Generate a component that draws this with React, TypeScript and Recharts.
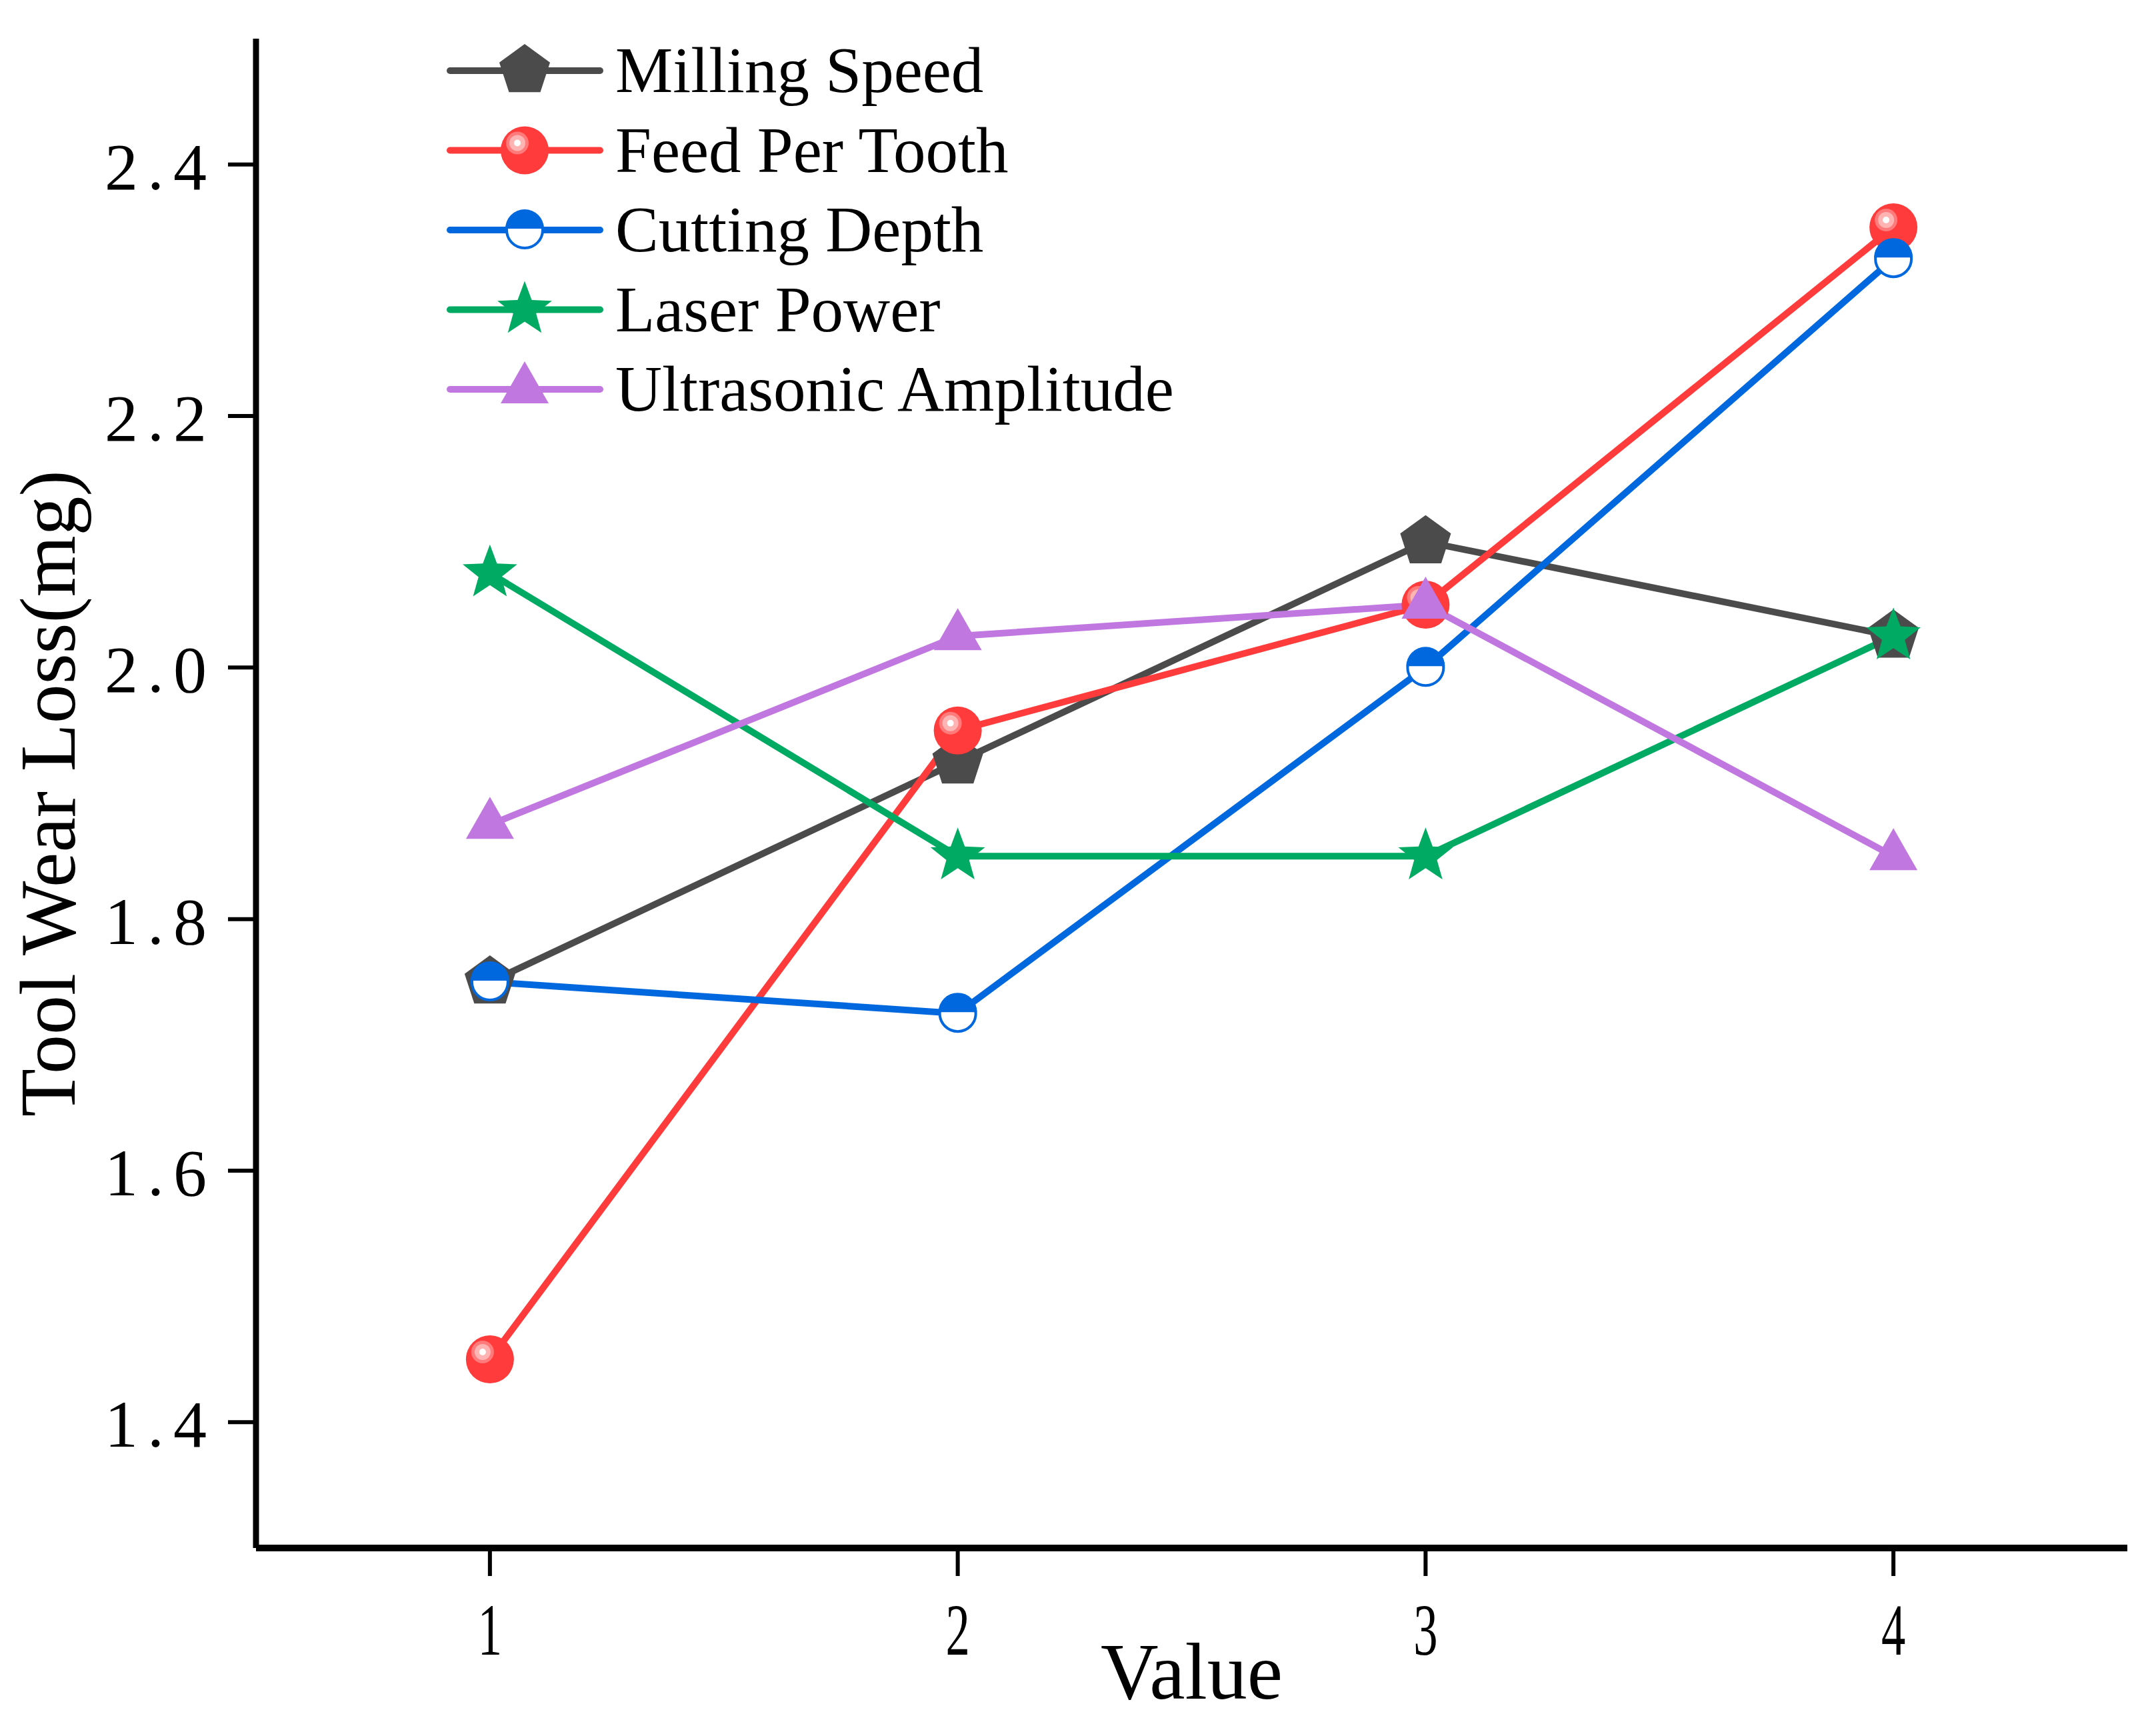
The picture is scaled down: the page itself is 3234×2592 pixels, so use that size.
import { LineChart, Line, XAxis, YAxis, Legend, Label } from 'recharts'

// x positions (factor levels) and the mean wear loss for each factor
const levels = [1, 2, 3, 4]
const millingSpeed = [1.75, 1.925, 2.1, 2.025]
const feedPerTooth = [1.45, 1.95, 2.05, 2.35]
const cuttingDepth = [1.75, 1.725, 2.0, 2.325]
const laserPower = [2.075, 1.85, 1.85, 2.025]
const ultrasonicAmplitude = [1.875, 2.025, 2.05, 1.85]

const xTicks = [1, 2, 3, 4]
const yTicks = [1.4, 1.6, 1.8, 2.0, 2.2, 2.4]

const FONT = "'Liberation Serif', 'Times New Roman', serif"

type Shape = 'pentagon' | 'ball' | 'half' | 'star' | 'triangle'

const SERIES: { key: string; name: string; color: string; shape: Shape }[] = [
  { key: 'milling', name: 'Milling Speed', color: '#4b4b4b', shape: 'pentagon' },
  { key: 'feed', name: 'Feed Per Tooth', color: '#ff3b3b', shape: 'ball' },
  { key: 'depth', name: 'Cutting Depth', color: '#0068de', shape: 'half' },
  { key: 'laser', name: 'Laser Power', color: '#00aa62', shape: 'star' },
  { key: 'ultra', name: 'Ultrasonic Amplitude', color: '#c078e0', shape: 'triangle' },
]

const data = levels.map((v, i) => ({
  value: v,
  milling: millingSpeed[i],
  feed: feedPerTooth[i],
  depth: cuttingDepth[i],
  laser: laserPower[i],
  ultra: ultrasonicAmplitude[i],
}))

function polar(cx: number, cy: number, r: number, a: number) {
  return `${cx + r * Math.cos(a)},${cy + r * Math.sin(a)}`
}

function Marker({ shape, cx, cy, color }: { shape: Shape; cx: number; cy: number; color: string }) {
  if (cx == null || cy == null) return null
  switch (shape) {
    case 'pentagon': {
      const pts = [0, 1, 2, 3, 4]
        .map((k) => polar(cx, cy, 40, -Math.PI / 2 + (k * 2 * Math.PI) / 5))
        .join(' ')
      return <polygon points={pts} fill={color} />
    }
    case 'ball':
      return (
        <g>
          <circle cx={cx} cy={cy} r={36} fill={color} />
          <circle cx={cx - 11} cy={cy - 11} r={17} fill="#ff7b7b" />
          <circle cx={cx - 11} cy={cy - 11} r={12} fill="#ffb4b4" />
          <circle cx={cx - 11} cy={cy - 11} r={5} fill="#ffffff" />
        </g>
      )
    case 'half':
      return (
        <g>
          <circle cx={cx} cy={cy} r={27} fill="#ffffff" stroke={color} strokeWidth={4} />
          <path d={`M${cx - 29},${cy - 2} A29,29 0 0 1 ${cx + 29},${cy - 2} Z`} fill={color} />
        </g>
      )
    case 'star': {
      const pts = Array.from({ length: 10 }, (_, k) =>
        polar(cx, cy, k % 2 === 0 ? 43 : 18, -Math.PI / 2 + (k * Math.PI) / 5),
      ).join(' ')
      return <polygon points={pts} fill={color} />
    }
    case 'triangle':
      return (
        <polygon
          points={`${cx},${cy - 42} ${cx + 36},${cy + 21} ${cx - 36},${cy + 21}`}
          fill={color}
        />
      )
  }
  return null
}

function YTick({ x, y, payload }: any) {
  return (
    <text
      x={x}
      y={y}
      dy="0.37em"
      textAnchor="end"
      fontSize={100}
      letterSpacing={14}
      fontFamily={FONT}
      fill="#000"
    >
      {Number(payload.value).toFixed(1)}
    </text>
  )
}

function XTick({ x, y, payload }: any) {
  return (
    <text
      transform={`translate(${x},${y}) scale(0.66,1)`}
      dy="0.71em"
      textAnchor="middle"
      fontSize={110}
      fontFamily={FONT}
      fill="#000"
    >
      {payload.value}
    </text>
  )
}

function LegendBox({ payload }: any) {
  const items = payload ?? []
  return (
    <svg width={1200} height={640} style={{ display: 'block' }}>
      {SERIES.map((s, i) => {
        const item = items.find((p: any) => p.value === s.name)
        const color = item?.color ?? s.color
        const y = 66 + i * 119.5
        return (
          <g key={s.key}>
            <line x1={15} x2={240} y1={y} y2={y} stroke={color} strokeWidth={10} strokeLinecap="round" />
            <Marker shape={s.shape} cx={127} cy={y} color={color} />
            <text x={263} y={y + 32} fontSize={97} fontFamily={FONT} fill="#000">
              {item?.value ?? s.name}
            </text>
          </g>
        )
      })}
    </svg>
  )
}

export default function App() {
  return (
    <div style={{ position: 'absolute', left: 0, top: 0, width: 3234, height: 2592, background: '#fff' }}>
      <LineChart
        width={3234}
        height={2592}
        data={data}
        margin={{ top: 58, right: 43, left: 0, bottom: 0 }}
      >
        <XAxis
          type="number"
          dataKey="value"
          domain={[0.5, 4.5]}
          ticks={xTicks}
          interval={0}
          height={270}
          tickSize={42}
          tickMargin={40}
          axisLine={{ stroke: '#000', strokeWidth: 10 }}
          tickLine={{ stroke: '#000', strokeWidth: 6 }}
          tick={<XTick />}
        >
          <Label
            content={(props: any) => {
              const vb = props.viewBox ?? { x: 384, y: 2322, width: 2807, height: 270 }
              return (
                <text
                  x={vb.x + vb.width / 2}
                  y={vb.y + 226}
                  textAnchor="middle"
                  fontSize={120}
                  fontFamily={FONT}
                  fill="#000"
                >
                  Value
                </text>
              )
            }}
          />
        </XAxis>
        <YAxis
          type="number"
          domain={[1.3, 2.5]}
          ticks={yTicks}
          interval={0}
          width={384}
          tickSize={42}
          tickMargin={18}
          axisLine={{ stroke: '#000', strokeWidth: 9 }}
          tickLine={{ stroke: '#000', strokeWidth: 6 }}
          tick={<YTick />}
        >
          <Label
            content={(props: any) => {
              const vb = props.viewBox ?? { x: 0, y: 58, width: 384, height: 2264 }
              const cx = vb.x + 112
              const cy = vb.y + vb.height / 2
              return (
                <text
                  x={cx}
                  y={cy}
                  transform={`rotate(-90, ${cx}, ${cy})`}
                  textAnchor="middle"
                  fontSize={118}
                  fontFamily={FONT}
                  fill="#000"
                >
                  Tool Wear Loss(mg)
                </text>
              )
            }}
          />
        </YAxis>
        <Legend
          layout="vertical"
          align="center"
          verticalAlign="middle"
          wrapperStyle={{ left: 660, top: 40, width: 1200, height: 640 }}
          content={<LegendBox />}
        />
        {SERIES.map((s) => (
          <Line
            key={s.key}
            type="linear"
            dataKey={s.key}
            name={s.name}
            stroke={s.color}
            strokeWidth={10}
            dot={(p: any) => (
              <Marker key={`${s.key}-${p.index}`} shape={s.shape} cx={p.cx} cy={p.cy} color={s.color} />
            )}
            activeDot={false}
            isAnimationActive={false}
          />
        ))}
      </LineChart>
    </div>
  )
}
